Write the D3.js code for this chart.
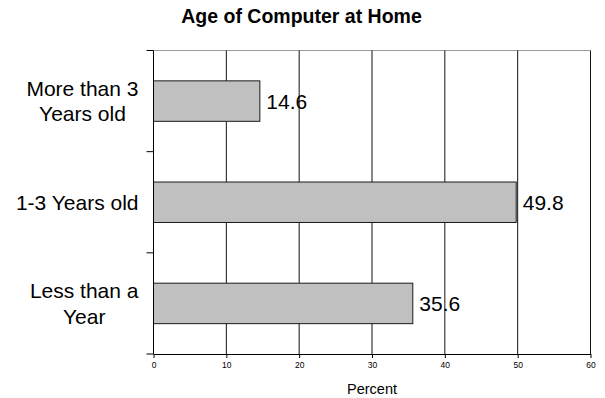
<!DOCTYPE html>
<html>
<head>
<meta charset="utf-8">
<script src="https://cdn.jsdelivr.net/npm/d3@7"></script>
<style>
  html, body { margin: 0; padding: 0; background: #fff; }
  svg { display: block; font-family: "Liberation Sans", Arial, sans-serif; }
</style>
</head>
<body>
<svg id="chart" width="605" height="398"></svg>
<script>
// Age of the household computer, percent of homes
const categories = ["More than 3\nYears old", "1-3 Years old", "Less than a\nYear"];
const percents = [14.6, 49.8, 35.6];
const xTicks = [0, 10, 20, 30, 40, 50, 60];
const titleText = "Age of Computer at Home";
const xAxisTitle = "Percent";

const W = 605, H = 398;
const plot = { left: 153.5, right: 590.5, top: 50.5, bottom: 354 };

const svg = d3.select("#chart");

const x = d3.scaleLinear().domain([0, 60]).range([plot.left, plot.right]);
const y = d3.scaleBand()
  .domain(categories)
  .range([plot.top, plot.bottom])
  .paddingInner(0.6)
  .paddingOuter(0.3);
const step = y.step();

// top edge of the plot area
svg.append("line")
  .attr("x1", plot.left).attr("x2", plot.right)
  .attr("y1", plot.top).attr("y2", plot.top)
  .attr("stroke", "#9a9a9a").attr("stroke-width", 1);

// vertical gridlines
svg.append("g")
  .selectAll("line")
  .data(xTicks.filter(d => d > 0))
  .join("line")
  .attr("x1", d => x(d)).attr("x2", d => x(d))
  .attr("y1", plot.top).attr("y2", plot.bottom)
  .attr("stroke", "#111").attr("stroke-width", 1);

// bars
svg.append("g")
  .selectAll("rect")
  .data(categories)
  .join("rect")
  .attr("x", x(0))
  .attr("y", c => y(c))
  .attr("width", (c, i) => x(percents[i]) - x(0))
  .attr("height", y.bandwidth())
  .attr("fill", "#c0c0c0")
  .attr("stroke", "#1a1a1a")
  .attr("stroke-width", 1);

// value labels
svg.append("g")
  .selectAll("text")
  .data(categories)
  .join("text")
  .attr("x", (c, i) => x(percents[i]) + 6.5)
  .attr("y", c => y(c) + y.bandwidth() / 2 + 7.5)
  .attr("font-size", 21)
  .attr("fill", "#000")
  .text((c, i) => percents[i].toFixed(1));

// x axis
const xAxis = d3.axisBottom(x)
  .tickValues(xTicks)
  .tickSize(4)
  .tickSizeOuter(0)
  .tickPadding(4);
const gx = svg.append("g")
  .attr("transform", `translate(0,${plot.bottom})`)
  .call(xAxis);
gx.select(".domain").attr("stroke", "#000");
gx.selectAll(".tick line").attr("stroke", "#000");
gx.selectAll(".tick text")
  .attr("font-family", "Liberation Sans, Arial, sans-serif")
  .attr("font-size", 8.5)
  .attr("fill", "#000");

// y axis line and category boundary ticks
svg.append("line")
  .attr("x1", plot.left).attr("x2", plot.left)
  .attr("y1", plot.top).attr("y2", plot.bottom)
  .attr("stroke", "#000");
const boundaries = d3.range(categories.length + 1).map(i => plot.top + i * step);
svg.append("g")
  .selectAll("line")
  .data(boundaries)
  .join("line")
  .attr("x1", plot.left - 7).attr("x2", plot.left)
  .attr("y1", d => d).attr("y2", d => d)
  .attr("stroke", "#000");

// category labels: each line centered within a right-aligned block
const labelRight = 138.5, lineGap = 25.7, catSize = 21;
categories.forEach(c => {
  const lines = c.split("\n");
  const g = svg.append("g");
  const texts = lines.map(s => g.append("text")
    .attr("font-size", catSize).attr("fill", "#000")
    .attr("text-anchor", "middle").text(s));
  const maxW = d3.max(texts, t => t.node().getComputedTextLength());
  const cx = labelRight - maxW / 2;
  const cy = y(c) + y.bandwidth() / 2;
  const firstBase = cy + 7.5 - (lines.length - 1) * lineGap / 2;
  texts.forEach((t, i) => t.attr("x", cx).attr("y", firstBase + i * lineGap));
});

// title
svg.append("text")
  .attr("x", 301.5).attr("y", 22.5)
  .attr("text-anchor", "middle")
  .attr("font-size", 19.5).attr("font-weight", "bold")
  .attr("fill", "#000")
  .text(titleText);

// x axis title
svg.append("text")
  .attr("x", (plot.left + plot.right) / 2).attr("y", 394)
  .attr("text-anchor", "middle")
  .attr("font-size", 14.5)
  .attr("fill", "#000")
  .text(xAxisTitle);
</script>
</body>
</html>
